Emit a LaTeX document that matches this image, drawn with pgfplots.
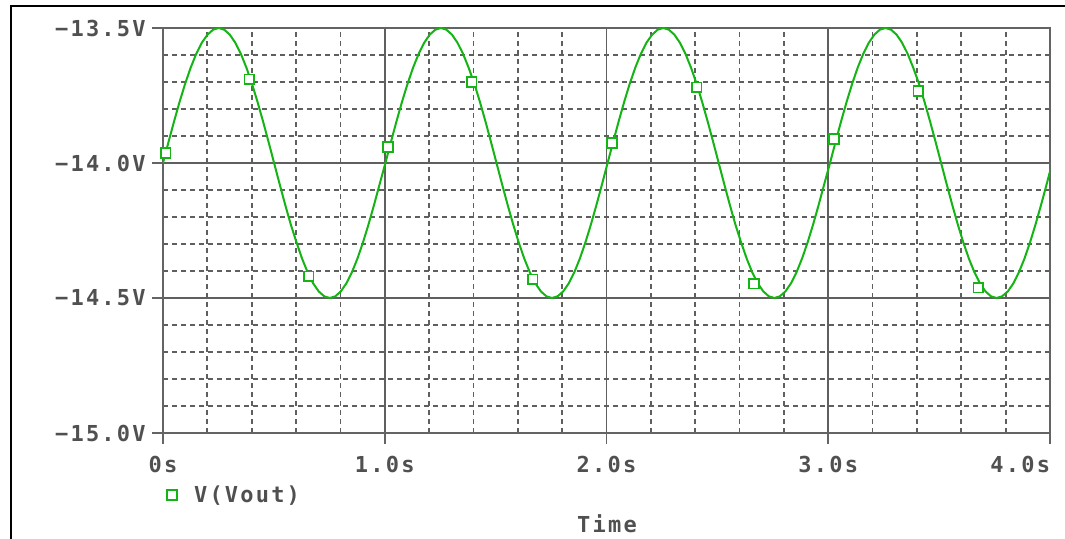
\documentclass[border=0pt]{standalone}
\usepackage{fontspec}
\usepackage{pgfplots}
\pgfplotsset{compat=1.18}
\newfontfamily\psfont{DejaVu Sans Mono}[LetterSpace=10]
\definecolor{txtgray}{RGB}{80,80,80}
\definecolor{linegray}{RGB}{100,100,100}
\definecolor{gridgray}{RGB}{95,95,95}
\definecolor{trace}{RGB}{20,180,20}
\newcommand{\psf}{\psfont\bfseries\fontsize{16.5pt}{19pt}\selectfont}

\begin{document}
\begin{tikzpicture}
\useasboundingbox (0,0) rectangle (798.75pt,404.25pt);
\draw[black, line width=1.5pt] (8.25pt,-1pt) -- (8.25pt,399.75pt) -- (800pt,399.75pt);
\begin{axis}[
    at={(122.25pt,79.5pt)}, anchor=south west,
    scale only axis,
    width=665.25pt, height=303.75pt,
    xmin=0, xmax=4,
    ymin=-15, ymax=-13.5,
    xtick={0,1,2,3,4},
    xticklabels={0s,1.0s,2.0s,3.0s,\makebox[0pt][r]{4.0s}},
    ytick={-15,-14.5,-14,-13.5},
    yticklabels={−15.0V,−14.5V,−14.0V,−13.5V},
    minor x tick num=4, minor y tick num=4,
    grid=both,
    major grid style={draw=gridgray, line width=1.4pt},
    minor grid style={draw=gridgray, line width=1.3pt, dash pattern=on 3.75pt off 3pt},
    axis line style={draw=linegray, line width=1.4pt},
    tick style={draw=linegray, line width=1.4pt},
    major tick length=8.25pt, minor tick length=0pt,
    tick align=outside,
    xtick pos=bottom, ytick pos=left,
    ticklabel style={font=\psf, text=txtgray, inner sep=0pt},
    xticklabel style={anchor=center, yshift=-15pt},
    yticklabel style={anchor=east, xshift=-4.6pt},
    xlabel={Time},
    xlabel style={font=\psf, text=txtgray, inner sep=0pt,
        at={(axis description cs:0.5006,-0.2247)}, anchor=center},
    legend style={draw=none, fill=none, font=\psf, text=txtgray,
        at={(axis description cs:0.0045,-0.153)}, anchor=west, inner sep=0pt},
    legend image code/.code={
        \draw[#1] plot coordinates {(0pt,0pt)};
        \path[draw=none, fill=none] (0pt,0pt) -- (14.5pt,0pt);
    },
]

% V(Vout) trace
\addplot[trace, line width=1.5pt, forget plot] coordinates {
(0.000,-14.0000) (0.025,-13.9218) (0.050,-13.8455) (0.075,-13.7730)
(0.100,-13.7061) (0.125,-13.6464) (0.150,-13.5955) (0.175,-13.5545)
(0.201,-13.5245) (0.226,-13.5062) (0.251,-13.5000) (0.276,-13.5062)
(0.301,-13.5245) (0.326,-13.5545) (0.351,-13.5955) (0.376,-13.6464)
(0.401,-13.7061) (0.426,-13.7730) (0.451,-13.8455) (0.476,-13.9218)
(0.501,-14.0000) (0.526,-14.0782) (0.551,-14.1545) (0.576,-14.2270)
(0.602,-14.2939) (0.627,-14.3536) (0.652,-14.4045) (0.677,-14.4455)
(0.702,-14.4755) (0.727,-14.4938) (0.752,-14.5000) (0.777,-14.4938)
(0.802,-14.4755) (0.827,-14.4455) (0.852,-14.4045) (0.877,-14.3536)
(0.902,-14.2939) (0.927,-14.2270) (0.952,-14.1545) (0.977,-14.0782)
(1.003,-14.0000) (1.028,-13.9218) (1.053,-13.8455) (1.078,-13.7730)
(1.103,-13.7061) (1.128,-13.6464) (1.153,-13.5955) (1.178,-13.5545)
(1.203,-13.5245) (1.228,-13.5062) (1.253,-13.5000) (1.278,-13.5062)
(1.303,-13.5245) (1.328,-13.5545) (1.353,-13.5955) (1.378,-13.6464)
(1.404,-13.7061) (1.429,-13.7730) (1.454,-13.8455) (1.479,-13.9218)
(1.504,-14.0000) (1.529,-14.0782) (1.554,-14.1545) (1.579,-14.2270)
(1.604,-14.2939) (1.629,-14.3536) (1.654,-14.4045) (1.679,-14.4455)
(1.704,-14.4755) (1.729,-14.4938) (1.754,-14.5000) (1.779,-14.4938)
(1.805,-14.4755) (1.830,-14.4455) (1.855,-14.4045) (1.880,-14.3536)
(1.905,-14.2939) (1.930,-14.2270) (1.955,-14.1545) (1.980,-14.0782)
(2.005,-14.0000) (2.030,-13.9218) (2.055,-13.8455) (2.080,-13.7730)
(2.105,-13.7061) (2.130,-13.6464) (2.155,-13.5955) (2.180,-13.5545)
(2.206,-13.5245) (2.231,-13.5062) (2.256,-13.5000) (2.281,-13.5062)
(2.306,-13.5245) (2.331,-13.5545) (2.356,-13.5955) (2.381,-13.6464)
(2.406,-13.7061) (2.431,-13.7730) (2.456,-13.8455) (2.481,-13.9218)
(2.506,-14.0000) (2.531,-14.0782) (2.556,-14.1545) (2.581,-14.2270)
(2.607,-14.2939) (2.632,-14.3536) (2.657,-14.4045) (2.682,-14.4455)
(2.707,-14.4755) (2.732,-14.4938) (2.757,-14.5000) (2.782,-14.4938)
(2.807,-14.4755) (2.832,-14.4455) (2.857,-14.4045) (2.882,-14.3536)
(2.907,-14.2939) (2.932,-14.2270) (2.957,-14.1545) (2.982,-14.0782)
(3.008,-14.0000) (3.033,-13.9218) (3.058,-13.8455) (3.083,-13.7730)
(3.108,-13.7061) (3.133,-13.6464) (3.158,-13.5955) (3.183,-13.5545)
(3.208,-13.5245) (3.233,-13.5062) (3.258,-13.5000) (3.283,-13.5062)
(3.308,-13.5245) (3.333,-13.5545) (3.358,-13.5955) (3.383,-13.6464)
(3.409,-13.7061) (3.434,-13.7730) (3.459,-13.8455) (3.484,-13.9218)
(3.509,-14.0000) (3.534,-14.0782) (3.559,-14.1545) (3.584,-14.2270)
(3.609,-14.2939) (3.634,-14.3536) (3.659,-14.4045) (3.684,-14.4455)
(3.709,-14.4755) (3.734,-14.4938) (3.759,-14.5000) (3.784,-14.4938)
(3.810,-14.4755) (3.835,-14.4455) (3.860,-14.4045) (3.885,-14.3536)
(3.910,-14.2939) (3.935,-14.2270) (3.960,-14.1545) (3.985,-14.0782)
(4.010,-14.0000)
};

% marker points on the trace
\addplot[only marks, mark=square*, mark size=3.6pt,
    mark options={draw=trace, fill=white, line width=1.2pt}] coordinates {
(0.012,-13.963) (0.389,-13.690) (0.657,-14.419)
(1.015,-13.941) (1.392,-13.700) (1.667,-14.431)
(2.025,-13.926) (2.407,-13.719) (2.665,-14.447)
(3.026,-13.911) (3.406,-13.733) (3.677,-14.462)
};
\addlegendentry{V(Vout)}
\end{axis}
\end{tikzpicture}
\end{document}
